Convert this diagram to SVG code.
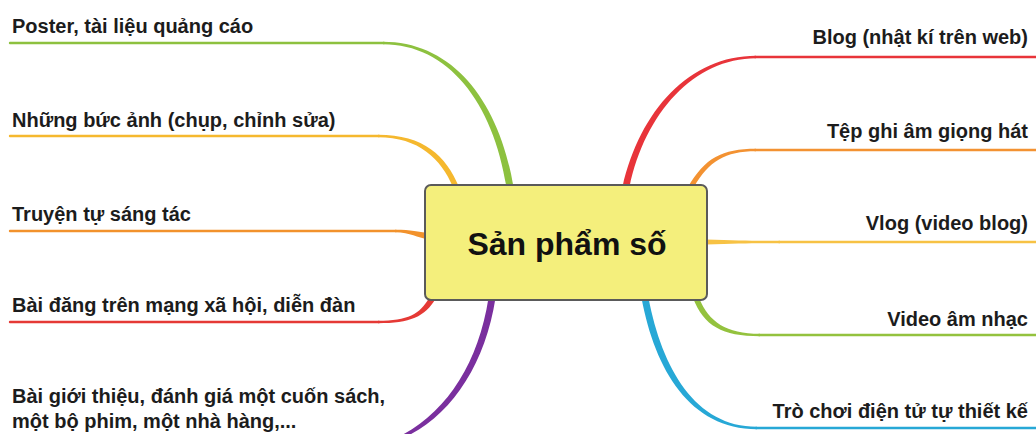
<svg xmlns="http://www.w3.org/2000/svg" width="1036" height="434" viewBox="0 0 1036 434">
  <style>
    .lbl { font-family: "Liberation Sans", Arial, sans-serif; font-weight: bold; font-size: 20px; fill: #1c1c1c; }
    .r { text-anchor: end; }
    .ln { fill: none; stroke-width: 2.4; stroke-linecap: round; }
    .title { font-family: "Liberation Sans", Arial, sans-serif; font-weight: bold; font-size: 32px; fill: #111; text-anchor: middle; }
  </style>
  <rect width="1036" height="434" fill="#ffffff"/>
  <g id="connectors">
    <!-- left: Poster (green) -->
    <line class="ln" x1="10" y1="43" x2="384" y2="43" stroke="#8dc13f"/>
    <path d="M383,41.8 C452,41.8 499,100 513.5,187 L506.5,187 C493,102 448,44.2 383,44.2 Z" fill="#8dc13f"/>
    <!-- left: Những bức ảnh (yellow-orange) -->
    <line class="ln" x1="10" y1="136" x2="379" y2="136" stroke="#f5b82e"/>
    <path d="M378,134.8 C424,134.8 446,156 459,187 L453,187 C441,159 419,137.2 378,137.2 Z" fill="#f5b82e"/>
    <!-- left: Truyện (orange) -->
    <line class="ln" x1="10" y1="231" x2="396" y2="231" stroke="#f2922c"/>
    <path d="M395,229.8 C412,229.8 418,232 428,233 L428,239 C417,238 411,232.2 395,232.2 Z" fill="#f2922c"/>
    <!-- left: Bài đăng (red) -->
    <line class="ln" x1="10" y1="322" x2="379" y2="322" stroke="#e53935"/>
    <path d="M378,320.8 C408,320.8 420,314 429,298 L436,298 C425,317 410,323.2 378,323.2 Z" fill="#e53935"/>
    <!-- left: Bài giới thiệu (purple) -->
    <path d="M488.5,298 C478,365 445,415 396,438 L403,438 C450,417 485,366 495.5,298 Z" fill="#7a2f9e"/>
    <!-- right: Blog (red) -->
    <line class="ln" x1="755" y1="57" x2="1036" y2="57" stroke="#e8343a"/>
    <path d="M622.5,187 C640,110 690,55.8 756,55.8 L756,58.2 C694,58.2 645,113 629.5,187 Z" fill="#e8343a"/>
    <!-- right: Tệp ghi âm (orange) -->
    <line class="ln" x1="755" y1="150" x2="1036" y2="150" stroke="#f39232"/>
    <path d="M688,187 C705,158 722,148.8 756,148.8 L756,151.2 C725,151.2 709,161 694,187 Z" fill="#f39232"/>
    <!-- right: Vlog (yellow) -->
    <line class="ln" x1="779" y1="242" x2="1036" y2="242" stroke="#f7c244"/>
    <path d="M706,239.5 C740,240.8 760,240.8 780,240.8 L780,243.2 C760,243.2 740,243.2 706,244.5 Z" fill="#f7c244"/>
    <!-- right: Video âm nhạc (green) -->
    <line class="ln" x1="759" y1="335" x2="1036" y2="335" stroke="#94c23e"/>
    <path d="M693,298 C704,326 722,336.2 760,336.2 L760,333.8 C726,333.8 709,322 699,298 Z" fill="#94c23e"/>
    <!-- right: Trò chơi (blue) -->
    <line class="ln" x1="756" y1="428" x2="1036" y2="428" stroke="#27a8d6"/>
    <path d="M641.5,298 C655,370 690,429.2 757,429.2 L757,426.8 C695,426.8 662,368 648.5,298 Z" fill="#27a8d6"/>
  </g>
  <g id="center">
    <rect x="425" y="185" width="282" height="115" rx="6" ry="6" fill="#f4ef7c" stroke="#5a5a5a" stroke-width="2"/>
    <text class="title" x="567" y="255">Sản phẩm số</text>
  </g>
  <g id="node-poster"><text class="lbl" x="12" y="33">Poster, tài liệu quảng cáo</text></g>
  <g id="node-anh"><text class="lbl" x="12" y="127">Những bức ảnh (chụp, chỉnh sửa)</text></g>
  <g id="node-truyen"><text class="lbl" x="12" y="221">Truyện tự sáng tác</text></g>
  <g id="node-baidang"><text class="lbl" x="12" y="312">Bài đăng trên mạng xã hội, diễn đàn</text></g>
  <g id="node-gioithieu">
    <text class="lbl" x="12" y="403">Bài giới thiệu, đánh giá một cuốn sách,</text>
    <text class="lbl" x="12" y="428">một bộ phim, một nhà hàng,...</text>
  </g>
  <g id="node-blog"><text class="lbl r" x="1028" y="44">Blog (nhật kí trên web)</text></g>
  <g id="node-tep"><text class="lbl r" x="1028" y="138">Tệp ghi âm giọng hát</text></g>
  <g id="node-vlog"><text class="lbl r" x="1028" y="230">Vlog (video blog)</text></g>
  <g id="node-video"><text class="lbl r" x="1028" y="326">Video âm nhạc</text></g>
  <g id="node-trochoi"><text class="lbl r" x="1028" y="418">Trò chơi điện tử tự thiết kế</text></g>
</svg>
